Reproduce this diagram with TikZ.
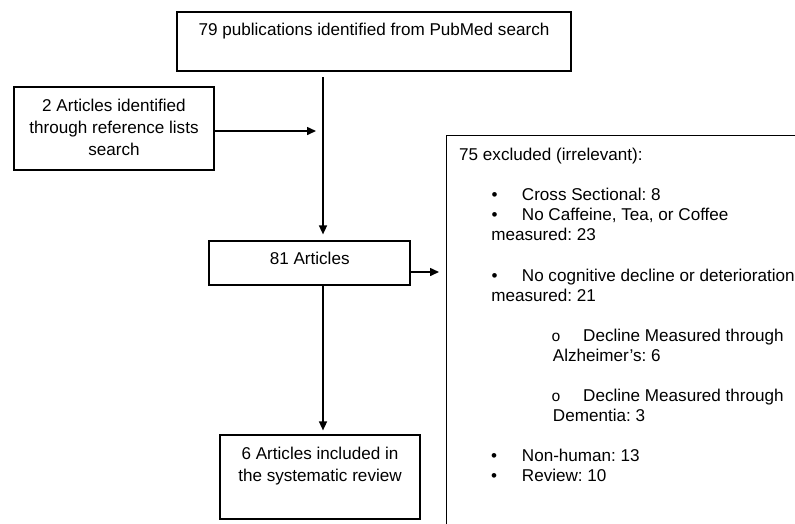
\documentclass[tikz,border=0pt]{standalone}
\usepackage{fontspec}
\setmainfont{Liberation Sans}
\newfontfamily\circfont{Liberation Mono}
\usetikzlibrary{arrows.meta}
\frenchspacing
\begin{document}
\begin{tikzpicture}[x=1pt,y=-1pt,
  boxshape/.style={draw=black, line width=1.2pt, inner sep=0pt, rectangle},
  conn/.style={draw=black, line width=1.5pt},
  arr/.style={conn, -{Triangle[length=9pt,width=8pt]}},
  txt/.style={font=\fontsize{17.1}{20}\selectfont, inner sep=0pt, anchor=base},
  txtw/.style={txt, anchor=base west},
  bul/.style={txt},
  subbul/.style={font=\circfont\fontsize{15.5}{17}\selectfont, inner sep=0pt, anchor=base},
  ]
\useasboundingbox (0,0) rectangle (795,523);
\fill[white] (0,0) rectangle (795,523);

% boxes
\node[boxshape, minimum width=394pt, minimum height=59pt] (pub) at (374,41.5) {};
\node[boxshape, minimum width=200pt, minimum height=83pt] (ref) at (114,128.5) {};
\node[boxshape, minimum width=201pt, minimum height=44pt] (art) at (309.5,263) {};
\node[boxshape, minimum width=200pt, minimum height=84pt] (inc) at (320,477) {};
\begin{scope}
  \clip (0,0) rectangle (795,523);
  \node[boxshape, anchor=north west, minimum width=420pt, minimum height=450pt] (excl) at (446,134.5) {};
\end{scope}

% box texts
\node[txt] (pubt) at (374,35.5) {79 publications identified from PubMed search};
\node[txt] (reft1) at (114,111) {2 Articles identified};
\node[txt] (reft2) at (114,133) {through reference lists};
\node[txt] (reft3) at (114,155) {search};
\node[txt] (artt) at (309.7,264) {81 Articles};
\node[txt] (inct1) at (320,459) {6 Articles included in};
\node[txt] (inct2) at (320,481) {the systematic review};

% exclusion list
\node[txtw] (e0) at (459,160) {75 excluded (irrelevant):};
\node[bul] (b1) at (494.5,200.7) {•};
\node[txtw] (e1) at (521.7,200.7) {Cross Sectional: 8};
\node[bul] (b2) at (494.5,220.8) {•};
\node[txtw] (e2) at (521.7,220.8) {No Caffeine, Tea, or Coffee};
\node[txtw] (e3) at (491.2,240.9) {measured: 23};
\node[bul] (b4) at (494.5,281.1) {•};
\node[txtw] (e4) at (521.7,281.1) {No cognitive decline or deterioration};
\node[txtw] (e5) at (491.2,301.2) {measured: 21};
\node[subbul] (s1) at (556,341.4) {o};
\node[txtw] (e6) at (583,341.4) {Decline Measured through};
\node[txtw] (e7) at (552.7,361.5) {Alzheimer’s: 6};
\node[subbul] (s2) at (556,401.7) {o};
\node[txtw] (e8) at (583,401.7) {Decline Measured through};
\node[txtw] (e9) at (552.7,421.8) {Dementia: 3};
\node[bul] (b10) at (494,461.7) {•};
\node[txtw] (e10) at (521.7,461.7) {Non-human: 13};
\node[bul] (b11) at (494,481.8) {•};
\node[txtw] (e11) at (521.7,481.8) {Review: 10};

% connectors
\coordinate (vtop) at (323,77);
\coordinate (arrL) at (0,131);
\coordinate (arrR) at (0,272);
\draw[arr, shorten >=6pt] (vtop) -- (vtop |- art.north);
\draw[arr, shorten >=7pt] (ref.east |- arrL) -- (vtop |- arrL);
\draw[arr, shorten >=4pt] (art.south -| vtop) -- (inc.north -| vtop);
\draw[arr, shorten >=7pt] (art.east |- arrR) -- (excl.west |- arrR);
\end{tikzpicture}
\end{document}
